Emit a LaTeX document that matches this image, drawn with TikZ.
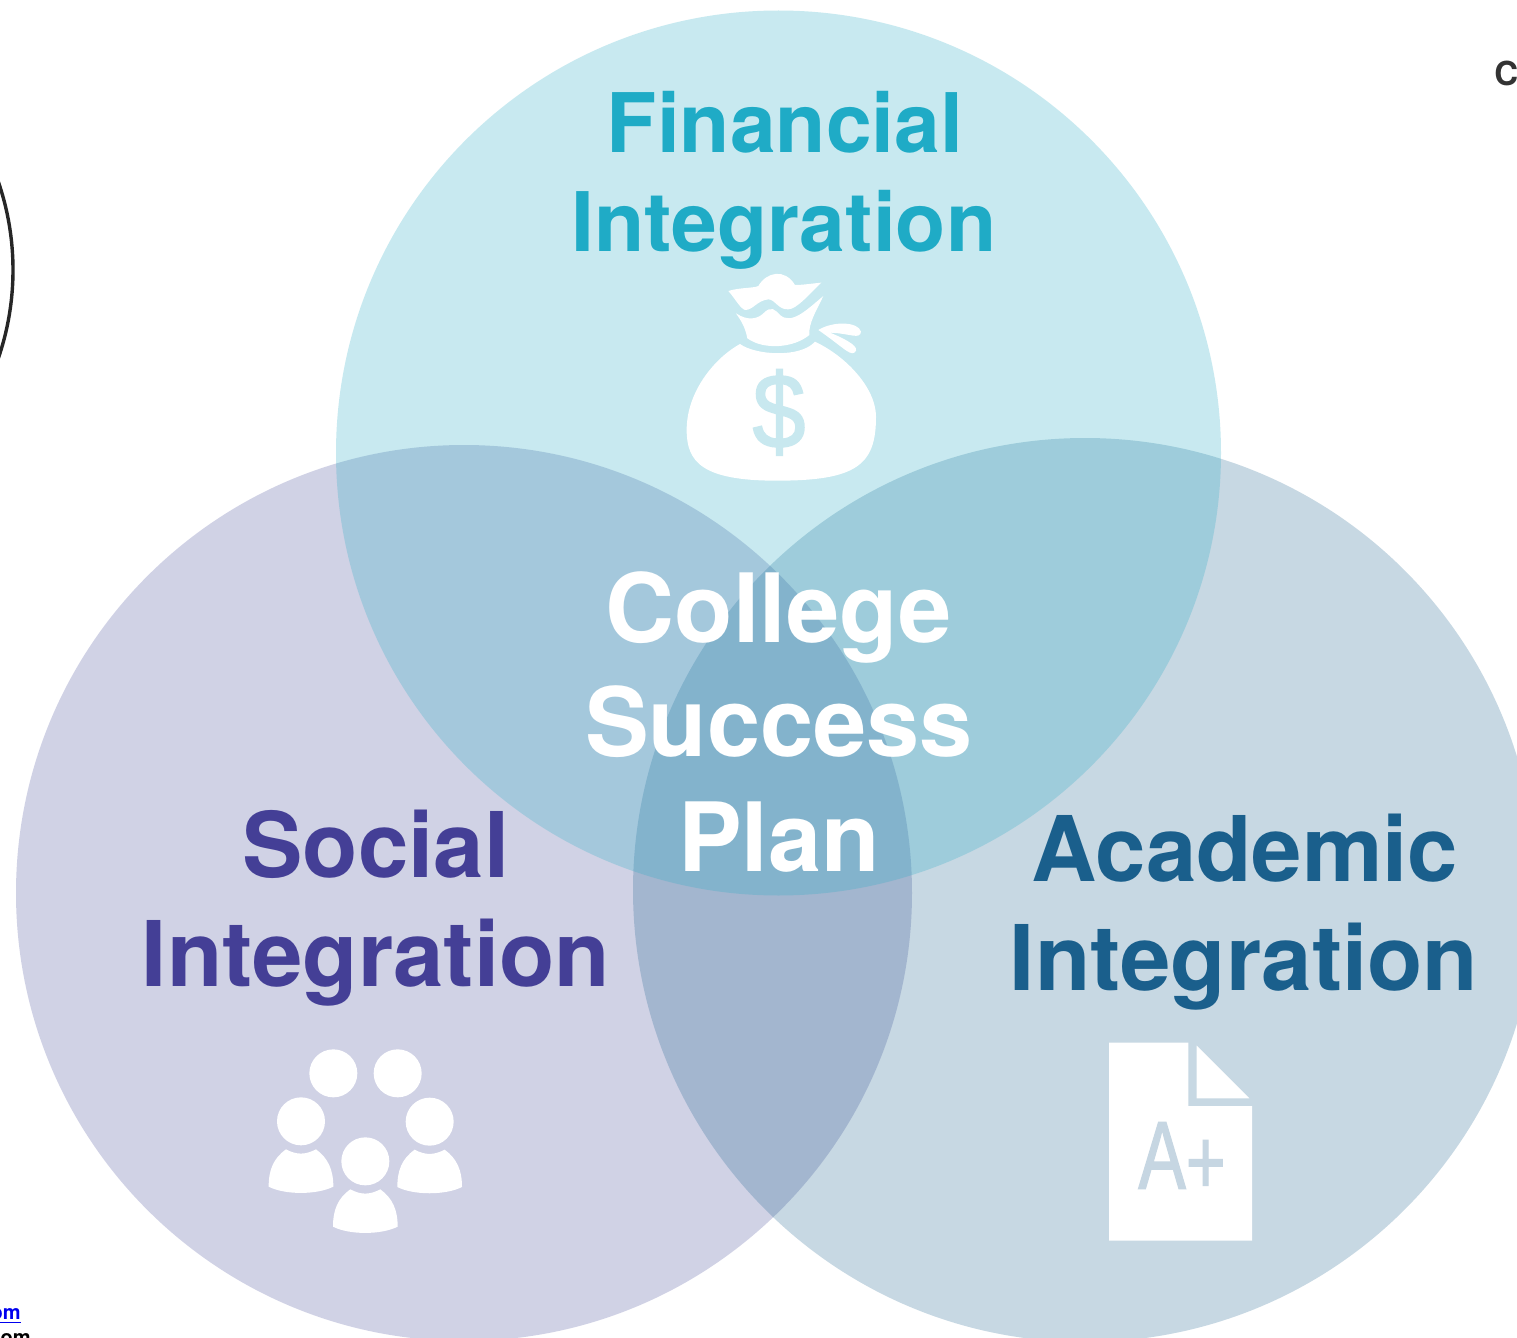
\documentclass[tikz,border=0pt]{standalone}
\usepackage{fontspec}
\setmainfont{TeX Gyre Heros}
\newfontfamily\iconfont[FakeBold=1.6]{Liberation Sans}
\definecolor{fincol}{HTML}{1FABC6}
\definecolor{soccol}{HTML}{443F96}
\definecolor{acacol}{HTML}{1A5F8C}
\definecolor{finfill}{HTML}{24ABC5}
\definecolor{socfill}{HTML}{474C9B}
\definecolor{acafill}{HTML}{206490}
\definecolor{finbg}{HTML}{C8E8EF}
\definecolor{acabg}{HTML}{C6D6E2}
\definecolor{linkcol}{HTML}{0000EE}
\definecolor{darktxt}{HTML}{333333}
\tikzset{
  venn/.style={fill=#1,fill opacity=.25,draw=none},
  finlabel/.style={anchor=base,inner sep=0pt,text=fincol,font=\fontsize{41.1}{48}\selectfont\bfseries},
  soclabel/.style={anchor=base,inner sep=0pt,text=soccol,font=\fontsize{45.3}{54}\selectfont\bfseries},
  acalabel/.style={anchor=base,inner sep=0pt,text=acacol,font=\fontsize{45.3}{54}\selectfont\bfseries},
  midlabel/.style={anchor=base,inner sep=0pt,text=white,font=\fontsize{47.8}{56}\selectfont\bfseries},
  icon/.style={shift={(#1)},x=.16667pt,y=-.16667pt},
  person/.style={fill=white,draw=none},
}
\begin{document}
\begin{tikzpicture}[x=.5pt,y=-.5pt]
\clip (0,0) rectangle (1517,1338);
\fill[white] (0,0) rectangle (1517,1338);
% stray page fragments
\draw[line width=1.7pt,black!85] (-258,270) circle (271);
\node[anchor=base west,inner sep=0pt,text=darktxt,font=\fontsize{16.5}{18}\selectfont\bfseries] (cfrag) at (1494,86) {C};
\node[anchor=base east,inner sep=0pt,text=linkcol,font=\fontsize{10}{12}\selectfont\bfseries] (linkfrag) at (21,1319) {\underline{om}};
\node[anchor=base east,inner sep=0pt,text=black,font=\fontsize{10}{12}\selectfont\bfseries] (blackfrag) at (31,1344) {om};
% venn circles
\fill[venn=socfill] (464,893) circle (448);
\fill[venn=acafill] (1085,890) circle (452);
\fill[venn=finfill] (778.5,453) circle (442.5);
% money bag
\begin{scope}[icon={660,260}]
\fill[white] (240,252) .. controls (285,285) and (420,295) .. (465,245)
  .. controls (560,290) and (648,385) .. (648,470)
  .. controls (648,615) and (590,662) .. (350,662)
  .. controls (125,662) and (80,605) .. (80,510)
  .. controls (80,390) and (170,290) .. (240,252) -- cycle;
\fill[white] (228,160) .. controls (265,185) and (295,175) .. (310,160)
  .. controls (335,135) and (345,150) .. (360,165)
  .. controls (395,195) and (440,150) .. (490,108)
  .. controls (470,150) and (445,190) .. (448,225)
  .. controls (400,265) and (310,270) .. (262,235)
  .. controls (255,200) and (245,185) .. (228,160) -- cycle;
\fill[white] (205,93) .. controls (240,82) and (280,85) .. (295,78)
  .. controls (320,35) and (375,25) .. (405,75)
  .. controls (430,75) and (460,70) .. (484,68)
  .. controls (450,100) and (410,148) .. (385,148)
  .. controls (355,150) and (345,118) .. (325,118)
  .. controls (290,122) and (280,150) .. (255,150)
  .. controls (240,145) and (225,115) .. (205,93) -- cycle;
\fill[white] (475,210) .. controls (520,182) and (595,185) .. (603,215)
  .. controls (600,240) and (570,220) .. (510,218)
  .. controls (540,230) and (595,255) .. (588,272)
  .. controls (575,295) and (555,265) .. (475,210) -- cycle;
\node[inner sep=0pt,text=finbg,font=\fontsize{53}{60}\iconfont,xscale=.9] (dollar) at (357,457) {\$};
\end{scope}
% people
\begin{scope}[icon={250,1030}]
\fill[person] (250,130) circle (72);
\fill[person] (443,130) circle (72);
\foreach \dx/\dy/\n in {0/0/a,386/1/b,193/120/c}{
  \begin{scope}[shift={(\dx,\dy)}]
  \fill[person] (153,274) circle (72);
  \fill[person] (108,358) .. controls (140,375) and (165,375) .. (198,358)
    .. controls (235,385) and (250,420) .. (250,470)
    .. controls (200,495) and (105,495) .. (56,470)
    .. controls (56,420) and (70,385) .. (108,358) -- cycle;
  \end{scope}
}
\end{scope}
% document
\begin{scope}[icon={1090,1030}]
\fill[white] (57,38) -- (295,38) -- (295,228) -- (486,228) -- (486,632) -- (57,632) -- cycle;
\fill[white] (320,47) -- (478,205) -- (320,205) -- cycle;
\node[inner sep=0pt,text=acabg,font=\fontsize{48}{52}\iconfont,xscale=.74] (grade) at (276,384) {A\raisebox{-2.5pt}{\fontsize{46}{48}\selectfont+}};
\end{scope}
% labels
\node[finlabel] (fin1) at (785,153) {Financial};
\node[finlabel] (fin2) at (784,251) {Integration};
\node[soclabel] (soc1) at (376,877) {Social};
\node[soclabel] (soc2) at (376,986) {Integration};
\node[acalabel] (aca1) at (1245,881) {Academic};
\node[acalabel] (aca2) at (1244,990) {Integration};
\node[midlabel] (mid1) at (779,642) {College};
\node[midlabel] (mid2) at (779,756) {Success};
\node[midlabel] (mid3) at (779,871) {Plan};
\end{tikzpicture}
\end{document}
